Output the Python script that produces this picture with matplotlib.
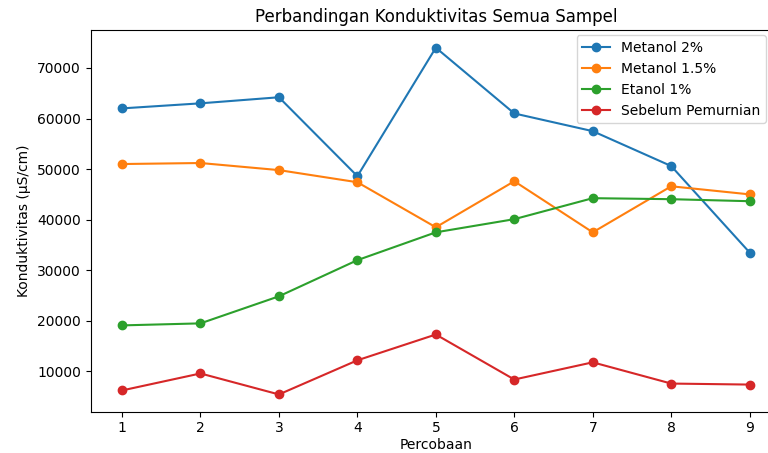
import matplotlib.pyplot as plt

percobaan = [1, 2, 3, 4, 5, 6, 7, 8, 9]
metanol_2 = [62000, 63000, 64200, 48600, 74000, 61000, 57500, 50600, 33500]
metanol_15 = [51000, 51200, 49800, 47400, 38500, 47600, 37500, 46600, 45000]
etanol_1 = [19100, 19500, 24850, 32000, 37500, 40100, 44250, 44050, 43650]
sebelum = [6240, 9600, 5450, 12200, 17300, 8400, 11800, 7600, 7400]

fig, ax = plt.subplots(figsize=(7.68, 4.53), dpi=100)
fig.subplots_adjust(left=0.118, right=1.017, top=0.933, bottom=0.091)

ax.plot(percobaan, metanol_2, marker='o', label='Metanol 2%')
ax.plot(percobaan, metanol_15, marker='o', label='Metanol 1.5%')
ax.plot(percobaan, etanol_1, marker='o', label='Etanol 1%')
ax.plot(percobaan, sebelum, marker='o', label='Sebelum Pemurnian')

# right edge of the original figure is cropped away
ax.spines['right'].set_visible(False)

ax.set_title('Perbandingan Konduktivitas Semua Sampel')
ax.set_xlabel('Percobaan', labelpad=2)
ax.set_ylabel('Konduktivitas (µS/cm)')
ax.set_xticks(percobaan)
ax.legend(loc='upper right', bbox_to_anchor=(0.978, 0.987), borderaxespad=0)

plt.savefig('out.png')
